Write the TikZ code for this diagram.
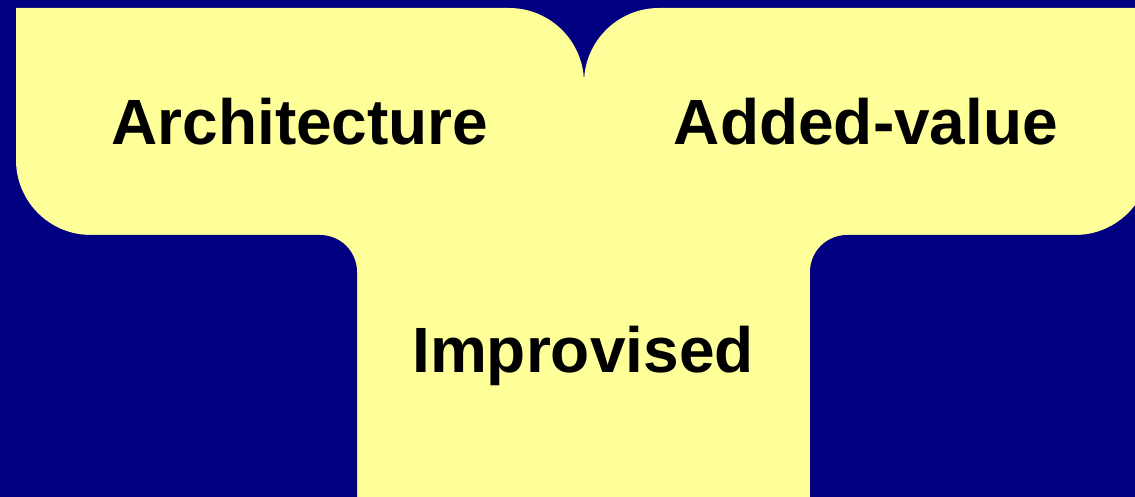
\documentclass[tikz,border=0pt]{standalone}
\usepackage{fontspec}
\setmainfont{Liberation Sans}
\definecolor{bgnavy}{HTML}{000080}
\definecolor{paleyellow}{HTML}{FFFF99}
\tikzset{
  label text/.style={font=\fontsize{64}{70}\selectfont\bfseries, text=black, inner sep=0pt, anchor=base},
  yellowfill/.style={fill=paleyellow, draw=none},
  navyfill/.style={fill=bgnavy, draw=none}
}
\begin{document}
\begin{tikzpicture}[x=1pt,y=1pt]
\useasboundingbox (0,0) rectangle (1135,496);
\fill[bgnavy] (0,0) rectangle (1135,496);
% left box
\path[yellowfill] (16,488) -- (509,488) arc[start angle=90,end angle=0,radius=75]
  -- (584,261) -- (91,261) arc[start angle=270,end angle=180,radius=75] -- cycle;
% right box
\path[yellowfill] (584,261) -- (584,413) arc[start angle=180,end angle=90,radius=75]
  -- (1150,488) -- (1150,336) arc[start angle=0,end angle=-90,radius=75] -- cycle;
% stem
\path[yellowfill] (300,-5) rectangle (850,270);
\path[navyfill] (-5,-5) -- (-5,261) -- (320,261) arc[start angle=90,end angle=0,radius=37]
  -- (357,-5) -- cycle;
\path[navyfill] (1140,-5) -- (1140,261) -- (847,261) arc[start angle=90,end angle=180,radius=37]
  -- (810,-5) -- cycle;
\node[label text] (arch) at (300,351) {Architecture};
\node[label text] (added) at (866,351) {Added-value};
\node[label text] (impr) at (583,124) {Improvised};
\end{tikzpicture}
\end{document}
